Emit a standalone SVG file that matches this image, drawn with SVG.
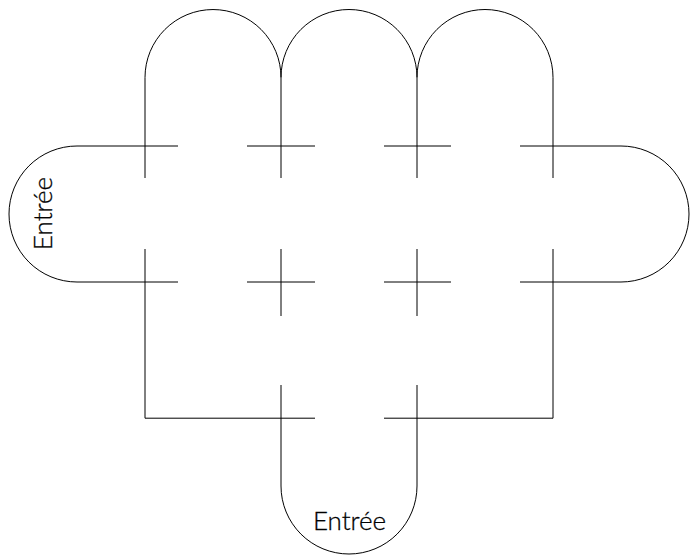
<svg xmlns="http://www.w3.org/2000/svg" width="691" height="555" viewBox="0 0 691 555">
<style>
path{fill:none;stroke:#000;stroke-width:1}
text{font-family:"Lato","Liberation Sans",sans-serif;font-weight:300;font-size:26px;fill:#000;stroke:#000;stroke-width:.3;text-anchor:middle}
</style>
<rect width="691" height="555" fill="#fff"/>
<g id="connectors">
<path d="M145 178V77.5A68 68 0 0 1 281 77.5A68 68 0 0 1 417 77.5A68 68 0 0 1 553 77.5V178"/>
<path d="M281 77.5V178M417 77.5V178"/>
<path d="M178 146H77A68 68 0 0 0 77 282H178"/>
<path d="M520 146H621A68 68 0 0 1 621 282H520"/>
<path d="M247 146H315M384 146H451M247 282H315M384 282H451"/>
<path d="M281 249V316M417 249V316"/>
<path d="M145 249V418.2H315M553 249V418.2H384"/>
<path d="M281 385V486A68 68 0 0 0 417 486V385"/>
</g>
<g id="entry-left"><text transform="translate(52 213.5) rotate(-90)">Entrée</text></g>
<g id="entry-bottom"><text x="349.5" y="529.5">Entrée</text></g>
</svg>
